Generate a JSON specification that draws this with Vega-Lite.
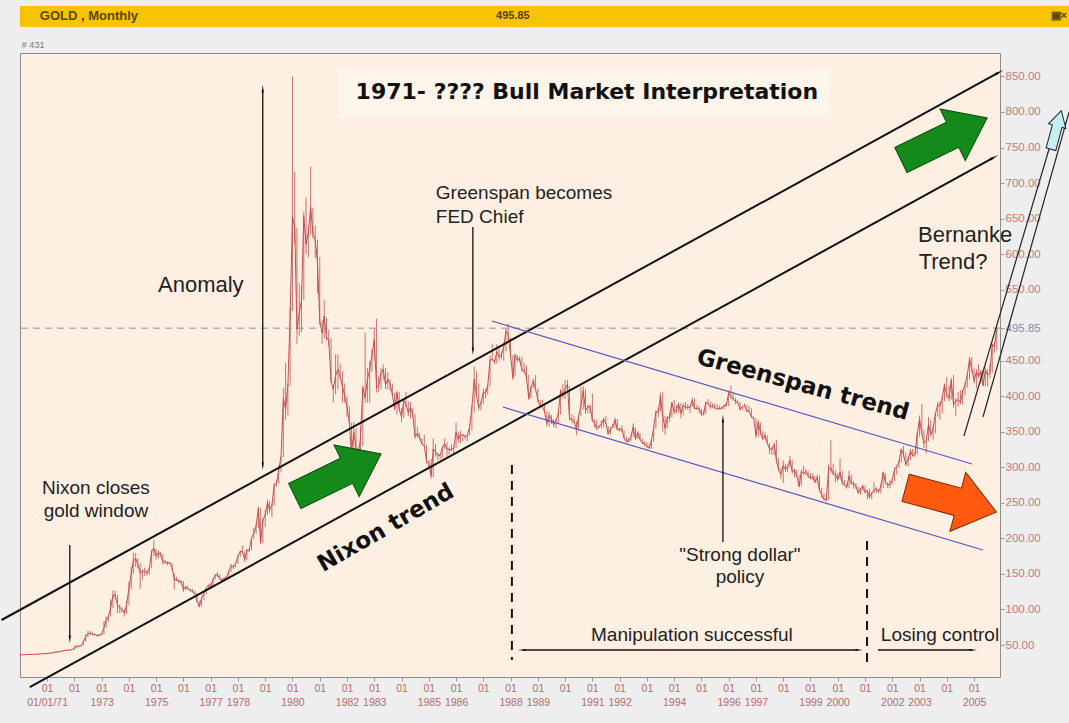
{
"$schema":"https://vega.github.io/schema/vega-lite/v6.json",
"width":980,"height":624,
"autosize":{"type":"none"},
"padding":{"left":20,"top":53,"right":69,"bottom":46},
"background":"#eeeeee",
"config":{"view":{"fill":"#fdf0e3","stroke":"#8c8c8c","strokeWidth":1},"font":"Liberation Sans"},
"resolve":{"axis":{"x":"independent","y":"independent"}},
"datasets":{"gold":[
{"d":"1970-01","c":36.0,"h":36.3,"l":35.8},{"d":"1970-02","c":36.2,"h":36.4,"l":35.9},{"d":"1970-03","c":36.3,"h":36.5,"l":36.0},{"d":"1970-04","c":36.5,"h":36.8,"l":36.2},{"d":"1970-05","c":36.6,"h":36.9,"l":36.3},{"d":"1970-06","c":36.7,"h":37.0,"l":36.4},{"d":"1970-07","c":36.8,"h":37.1,"l":36.5},{"d":"1970-08","c":37.0,"h":37.3,"l":36.7},{"d":"1970-09","c":37.2,"h":37.6,"l":36.9},{"d":"1970-10","c":37.6,"h":38.0,"l":37.2},{"d":"1970-11","c":37.8,"h":38.1,"l":37.4},{"d":"1970-12","c":37.9,"h":38.2,"l":37.5},
{"d":"1971-01","c":38.0,"h":38.5,"l":37.6},{"d":"1971-02","c":38.7,"h":39.0,"l":38.0},{"d":"1971-03","c":38.9,"h":39.3,"l":38.5},{"d":"1971-04","c":39.0,"h":39.5,"l":38.6},{"d":"1971-05","c":40.5,"h":41.0,"l":39.0},{"d":"1971-06","c":40.1,"h":40.9,"l":39.6},{"d":"1971-07","c":41.0,"h":41.5,"l":40.0},{"d":"1971-08","c":42.0,"h":42.8,"l":40.8},{"d":"1971-09","c":42.5,"h":43.0,"l":41.5},{"d":"1971-10","c":42.6,"h":43.1,"l":42.0},{"d":"1971-11","c":43.0,"h":43.5,"l":42.3},{"d":"1971-12","c":43.5,"h":44.0,"l":42.8},
{"d":"1972-01","c":45.7,"h":49.0,"l":43.5},{"d":"1972-02","c":48.3,"h":49.5,"l":45.5},{"d":"1972-03","c":48.3,"h":49.2,"l":47.5},{"d":"1972-04","c":49.0,"h":49.6,"l":47.8},{"d":"1972-05","c":54.6,"h":57.0,"l":49.0},{"d":"1972-06","c":62.0,"h":65.0,"l":54.5},{"d":"1972-07","c":65.7,"h":70.0,"l":61.0},{"d":"1972-08","c":67.0,"h":70.0,"l":64.0},{"d":"1972-09","c":65.0,"h":67.5,"l":63.5},{"d":"1972-10","c":64.9,"h":66.0,"l":63.5},{"d":"1972-11","c":62.9,"h":65.0,"l":62.0},{"d":"1972-12","c":63.9,"h":65.5,"l":62.5},
{"d":"1973-01","c":65.1,"h":67.0,"l":63.5},{"d":"1973-02","c":74.2,"h":84.0,"l":65.0},{"d":"1973-03","c":84.3,"h":90.0,"l":74.0},{"d":"1973-04","c":90.5,"h":92.0,"l":83.0},{"d":"1973-05","c":102,"h":114,"l":90},{"d":"1973-06","c":120,"h":127,"l":102},{"d":"1973-07","c":120,"h":126,"l":114},{"d":"1973-08","c":106,"h":120,"l":95},{"d":"1973-09","c":103,"h":107,"l":95},{"d":"1973-10","c":100,"h":103,"l":96},{"d":"1973-11","c":94.8,"h":100,"l":90},{"d":"1973-12","c":106.7,"h":112,"l":94},
{"d":"1974-01","c":129,"h":139,"l":106},{"d":"1974-02","c":150,"h":160,"l":128},{"d":"1974-03","c":168,"h":180,"l":150},{"d":"1974-04","c":172,"h":179,"l":160},{"d":"1974-05","c":163,"h":172,"l":158},{"d":"1974-06","c":151,"h":165,"l":129},{"d":"1974-07","c":154,"h":156,"l":142},{"d":"1974-08","c":154,"h":159,"l":147},{"d":"1974-09","c":151,"h":155,"l":148},{"d":"1974-10","c":158,"h":159,"l":149},{"d":"1974-11","c":181,"h":184,"l":158},{"d":"1974-12","c":186.5,"h":197.5,"l":175},
{"d":"1975-01","c":175,"h":185,"l":170},{"d":"1975-02","c":180,"h":183,"l":172},{"d":"1975-03","c":178,"h":181,"l":175},{"d":"1975-04","c":167,"h":178,"l":163},{"d":"1975-05","c":167,"h":170,"l":164},{"d":"1975-06","c":165,"h":168,"l":162},{"d":"1975-07","c":166,"h":167,"l":164},{"d":"1975-08","c":159,"h":165,"l":156},{"d":"1975-09","c":142,"h":151,"l":128},{"d":"1975-10","c":142,"h":146,"l":140},{"d":"1975-11","c":139,"h":143,"l":137},{"d":"1975-12","c":140,"h":141,"l":135},
{"d":"1976-01","c":128,"h":140,"l":125},{"d":"1976-02","c":132,"h":133,"l":127},{"d":"1976-03","c":129,"h":133,"l":128},{"d":"1976-04","c":128,"h":129,"l":125},{"d":"1976-05","c":125,"h":129,"l":124},{"d":"1976-06","c":123,"h":126,"l":122},{"d":"1976-07","c":112,"h":123,"l":110},{"d":"1976-08","c":104,"h":112,"l":103},{"d":"1976-09","c":116,"h":117,"l":104},{"d":"1976-10","c":123,"h":125,"l":113},{"d":"1976-11","c":130,"h":131,"l":121},{"d":"1976-12","c":134.5,"h":135,"l":130},
{"d":"1977-01","c":132,"h":137,"l":130},{"d":"1977-02","c":142,"h":143,"l":131},{"d":"1977-03","c":148,"h":150,"l":142},{"d":"1977-04","c":149,"h":153,"l":146},{"d":"1977-05","c":143,"h":149,"l":142},{"d":"1977-06","c":141,"h":145,"l":140},{"d":"1977-07","c":144,"h":145,"l":140},{"d":"1977-08","c":145,"h":147,"l":143},{"d":"1977-09","c":154,"h":155,"l":144},{"d":"1977-10","c":161,"h":164,"l":153},{"d":"1977-11","c":160,"h":163,"l":157},{"d":"1977-12","c":165,"h":166,"l":159},
{"d":"1978-01","c":175,"h":176,"l":164},{"d":"1978-02","c":182,"h":183,"l":174},{"d":"1978-03","c":181,"h":190,"l":180},{"d":"1978-04","c":170,"h":182,"l":167},{"d":"1978-05","c":184,"h":185,"l":169},{"d":"1978-06","c":183,"h":185,"l":181},{"d":"1978-07","c":200,"h":201,"l":183},{"d":"1978-08","c":208,"h":215,"l":199},{"d":"1978-09","c":217,"h":220,"l":206},{"d":"1978-10","c":242,"h":245,"l":215},{"d":"1978-11","c":194,"h":243,"l":192},{"d":"1978-12","c":226,"h":228,"l":193},
{"d":"1979-01","c":233,"h":240,"l":216},{"d":"1979-02","c":251,"h":255,"l":233},{"d":"1979-03","c":240,"h":253,"l":236},{"d":"1979-04","c":246,"h":248,"l":230},{"d":"1979-05","c":275,"h":278,"l":246},{"d":"1979-06","c":277,"h":282,"l":273},{"d":"1979-07","c":296,"h":303,"l":277},{"d":"1979-08","c":315,"h":316,"l":293},{"d":"1979-09","c":397,"h":412,"l":314},{"d":"1979-10","c":382,"h":447,"l":367},{"d":"1979-11","c":415,"h":418,"l":373},{"d":"1979-12","c":512,"h":525,"l":415},
{"d":"1980-01","c":653,"h":850,"l":520},{"d":"1980-02","c":637,"h":716,"l":614},{"d":"1980-03","c":494,"h":637,"l":474},{"d":"1980-04","c":517,"h":559,"l":485},{"d":"1980-05","c":535,"h":555,"l":490},{"d":"1980-06","c":653,"h":660,"l":535},{"d":"1980-07","c":614,"h":680,"l":600},{"d":"1980-08","c":631,"h":640,"l":595},{"d":"1980-09","c":666,"h":723,"l":627},{"d":"1980-10","c":629,"h":665,"l":622},{"d":"1980-11","c":620,"h":640,"l":594},{"d":"1980-12","c":589.75,"h":620,"l":545},
{"d":"1981-01","c":506,"h":596,"l":500},{"d":"1981-02","c":489,"h":507,"l":474},{"d":"1981-03","c":513,"h":535,"l":482},{"d":"1981-04","c":482,"h":510,"l":478},{"d":"1981-05","c":480,"h":494,"l":471},{"d":"1981-06","c":422,"h":482,"l":419},{"d":"1981-07","c":410,"h":416,"l":391},{"d":"1981-08","c":429,"h":459,"l":403},{"d":"1981-09","c":438,"h":459,"l":410},{"d":"1981-10","c":427,"h":446,"l":426},{"d":"1981-11","c":414,"h":435,"l":391},{"d":"1981-12","c":400,"h":418,"l":391},
{"d":"1982-01","c":385,"h":400,"l":371},{"d":"1982-02","c":363,"h":386,"l":362},{"d":"1982-03","c":320,"h":363,"l":314},{"d":"1982-04","c":350,"h":364,"l":324},{"d":"1982-05","c":328,"h":355,"l":320},{"d":"1982-06","c":317,"h":328,"l":297},{"d":"1982-07","c":342,"h":357,"l":315},{"d":"1982-08","c":412,"h":415,"l":330},{"d":"1982-09","c":398,"h":490,"l":391},{"d":"1982-10","c":423,"h":440,"l":391},{"d":"1982-11","c":438,"h":450,"l":391},{"d":"1982-12","c":456.9,"h":466,"l":434},
{"d":"1983-01","c":480,"h":495,"l":450},{"d":"1983-02","c":412,"h":509,"l":405},{"d":"1983-03","c":415,"h":428,"l":406},{"d":"1983-04","c":432,"h":440,"l":410},{"d":"1983-05","c":438,"h":445,"l":423},{"d":"1983-06","c":416,"h":440,"l":410},{"d":"1983-07","c":424,"h":434,"l":410},{"d":"1983-08","c":417,"h":424,"l":408},{"d":"1983-09","c":402,"h":418,"l":401},{"d":"1983-10","c":382,"h":405,"l":380},{"d":"1983-11","c":405,"h":408,"l":374},{"d":"1983-12","c":382,"h":406,"l":380},
{"d":"1984-01","c":371,"h":383,"l":364},{"d":"1984-02","c":394,"h":395,"l":369},{"d":"1984-03","c":389,"h":406,"l":385},{"d":"1984-04","c":377,"h":393,"l":372},{"d":"1984-05","c":384,"h":392,"l":369},{"d":"1984-06","c":373,"h":384,"l":370},{"d":"1984-07","c":343,"h":375,"l":340},{"d":"1984-08","c":348,"h":357,"l":342},{"d":"1984-09","c":341,"h":349,"l":339},{"d":"1984-10","c":333,"h":341,"l":332},{"d":"1984-11","c":330,"h":346,"l":330},{"d":"1984-12","c":309,"h":331,"l":305},
{"d":"1985-01","c":306,"h":310,"l":298},{"d":"1985-02","c":288,"h":312,"l":284},{"d":"1985-03","c":326,"h":341,"l":286},{"d":"1985-04","c":322,"h":333,"l":315},{"d":"1985-05","c":317,"h":320,"l":310},{"d":"1985-06","c":317,"h":319,"l":311},{"d":"1985-07","c":327,"h":330,"l":313},{"d":"1985-08","c":333,"h":341,"l":326},{"d":"1985-09","c":326,"h":335,"l":315},{"d":"1985-10","c":325,"h":328,"l":318},{"d":"1985-11","c":325,"h":333,"l":323},{"d":"1985-12","c":327,"h":329,"l":320},
{"d":"1986-01","c":350,"h":363,"l":327},{"d":"1986-02","c":339,"h":349,"l":335},{"d":"1986-03","c":345,"h":351,"l":334},{"d":"1986-04","c":346,"h":347,"l":337},{"d":"1986-05","c":343,"h":346,"l":339},{"d":"1986-06","c":345,"h":346,"l":337},{"d":"1986-07","c":357,"h":361,"l":345},{"d":"1986-08","c":384,"h":387,"l":352},{"d":"1986-09","c":424,"h":442,"l":377},{"d":"1986-10","c":402,"h":435,"l":400},{"d":"1986-11","c":384,"h":418,"l":380},{"d":"1986-12","c":391,"h":393,"l":380},
{"d":"1987-01","c":405,"h":411,"l":389},{"d":"1987-02","c":405,"h":410,"l":397},{"d":"1987-03","c":415,"h":416,"l":402},{"d":"1987-04","c":451,"h":457,"l":414},{"d":"1987-05","c":452,"h":474,"l":450},{"d":"1987-06","c":448,"h":452,"l":445},{"d":"1987-07","c":463,"h":473,"l":446},{"d":"1987-08","c":455,"h":468,"l":450},{"d":"1987-09","c":459,"h":463,"l":452},{"d":"1987-10","c":469,"h":475,"l":450},{"d":"1987-11","c":492,"h":495,"l":463},{"d":"1987-12","c":486.5,"h":502,"l":479},
{"d":"1988-01","c":458,"h":482,"l":456},{"d":"1988-02","c":426,"h":458,"l":423},{"d":"1988-03","c":458,"h":460,"l":428},{"d":"1988-04","c":451,"h":458,"l":448},{"d":"1988-05","c":453,"h":456,"l":448},{"d":"1988-06","c":437,"h":456,"l":434},{"d":"1988-07","c":437,"h":447,"l":432},{"d":"1988-08","c":427,"h":443,"l":422},{"d":"1988-09","c":397,"h":430,"l":395},{"d":"1988-10","c":412,"h":415,"l":397},{"d":"1988-11","c":422,"h":425,"l":411},{"d":"1988-12","c":410,"h":430,"l":408},
{"d":"1989-01","c":395,"h":411,"l":392},{"d":"1989-02","c":386,"h":395,"l":383},{"d":"1989-03","c":386,"h":395,"l":385},{"d":"1989-04","c":378,"h":388,"l":377},{"d":"1989-05","c":362,"h":379,"l":357},{"d":"1989-06","c":373,"h":378,"l":358},{"d":"1989-07","c":368,"h":374,"l":361},{"d":"1989-08","c":360,"h":368,"l":357},{"d":"1989-09","c":366,"h":368,"l":355},{"d":"1989-10","c":375,"h":378,"l":361},{"d":"1989-11","c":408,"h":410,"l":374},{"d":"1989-12","c":401,"h":417,"l":397},
{"d":"1990-01","c":410,"h":423,"l":396},{"d":"1990-02","c":417,"h":423,"l":408},{"d":"1990-03","c":368,"h":414,"l":366},{"d":"1990-04","c":368,"h":375,"l":362},{"d":"1990-05","c":364,"h":372,"l":362},{"d":"1990-06","c":353,"h":365,"l":345},{"d":"1990-07","c":372,"h":374,"l":352},{"d":"1990-08","c":387,"h":414,"l":372},{"d":"1990-09","c":408,"h":414,"l":381},{"d":"1990-10","c":380,"h":410,"l":375},{"d":"1990-11","c":385,"h":388,"l":376},{"d":"1990-12","c":386,"h":388,"l":376},
{"d":"1991-01","c":366,"h":404,"l":364},{"d":"1991-02","c":362,"h":368,"l":356},{"d":"1991-03","c":355,"h":367,"l":352},{"d":"1991-04","c":357,"h":360,"l":355},{"d":"1991-05","c":361,"h":366,"l":355},{"d":"1991-06","c":368,"h":370,"l":356},{"d":"1991-07","c":362,"h":372,"l":361},{"d":"1991-08","c":347,"h":358,"l":346},{"d":"1991-09","c":354,"h":357,"l":346},{"d":"1991-10","c":357,"h":361,"l":355},{"d":"1991-11","c":367,"h":370,"l":356},{"d":"1991-12","c":353,"h":368,"l":352},
{"d":"1992-01","c":354,"h":356,"l":350},{"d":"1992-02","c":353,"h":359,"l":350},{"d":"1992-03","c":341,"h":352,"l":340},{"d":"1992-04","c":336,"h":343,"l":336},{"d":"1992-05","c":337,"h":341,"l":335},{"d":"1992-06","c":343,"h":345,"l":337},{"d":"1992-07","c":357,"h":362,"l":343},{"d":"1992-08","c":340,"h":356,"l":339},{"d":"1992-09","c":349,"h":351,"l":340},{"d":"1992-10","c":339,"h":348,"l":338},{"d":"1992-11","c":334,"h":340,"l":333},{"d":"1992-12","c":333,"h":337,"l":330},
{"d":"1993-01","c":330,"h":335,"l":327},{"d":"1993-02","c":327,"h":333,"l":326},{"d":"1993-03","c":337,"h":338,"l":326},{"d":"1993-04","c":355,"h":358,"l":336},{"d":"1993-05","c":378,"h":380,"l":354},{"d":"1993-06","c":378,"h":384,"l":371},{"d":"1993-07","c":401,"h":405,"l":378},{"d":"1993-08","c":372,"h":406,"l":350},{"d":"1993-09","c":355,"h":372,"l":346},{"d":"1993-10","c":370,"h":372,"l":355},{"d":"1993-11","c":370,"h":377,"l":364},{"d":"1993-12","c":391,"h":392,"l":370},
{"d":"1994-01","c":378,"h":395,"l":375},{"d":"1994-02","c":382,"h":387,"l":376},{"d":"1994-03","c":389,"h":391,"l":377},{"d":"1994-04","c":376,"h":390,"l":369},{"d":"1994-05","c":387,"h":390,"l":373},{"d":"1994-06","c":385,"h":392,"l":381},{"d":"1994-07","c":384,"h":389,"l":381},{"d":"1994-08","c":385,"h":387,"l":376},{"d":"1994-09","c":395,"h":398,"l":385},{"d":"1994-10","c":383,"h":397,"l":382},{"d":"1994-11","c":383,"h":388,"l":381},{"d":"1994-12","c":383,"h":386,"l":376},
{"d":"1995-01","c":375,"h":382,"l":372},{"d":"1995-02","c":376,"h":380,"l":372},{"d":"1995-03","c":392,"h":392,"l":375},{"d":"1995-04","c":389,"h":396,"l":388},{"d":"1995-05","c":385,"h":392,"l":382},{"d":"1995-06","c":387,"h":390,"l":383},{"d":"1995-07","c":384,"h":390,"l":382},{"d":"1995-08","c":382,"h":389,"l":381},{"d":"1995-09","c":383,"h":387,"l":381},{"d":"1995-10","c":383,"h":386,"l":381},{"d":"1995-11","c":387,"h":389,"l":382},{"d":"1995-12","c":387,"h":391,"l":386},
{"d":"1996-01","c":405,"h":408,"l":386},{"d":"1996-02","c":400,"h":415,"l":396},{"d":"1996-03","c":396,"h":404,"l":394},{"d":"1996-04","c":393,"h":398,"l":389},{"d":"1996-05","c":391,"h":395,"l":389},{"d":"1996-06","c":382,"h":392,"l":380},{"d":"1996-07","c":385,"h":386,"l":380},{"d":"1996-08","c":387,"h":390,"l":385},{"d":"1996-09","c":379,"h":388,"l":378},{"d":"1996-10","c":379,"h":386,"l":378},{"d":"1996-11","c":371,"h":383,"l":370},{"d":"1996-12","c":369,"h":372,"l":367},
{"d":"1997-01","c":345,"h":369,"l":341},{"d":"1997-02","c":364,"h":366,"l":343},{"d":"1997-03","c":349,"h":363,"l":346},{"d":"1997-04","c":340,"h":351,"l":338},{"d":"1997-05","c":345,"h":349,"l":339},{"d":"1997-06","c":334,"h":345,"l":334},{"d":"1997-07","c":326,"h":334,"l":319},{"d":"1997-08","c":325,"h":329,"l":318},{"d":"1997-09","c":332,"h":335,"l":317},{"d":"1997-10","c":311,"h":339,"l":306},{"d":"1997-11","c":296,"h":313,"l":295},{"d":"1997-12","c":290,"h":299,"l":284},
{"d":"1998-01","c":303,"h":310,"l":278},{"d":"1998-02","c":297,"h":305,"l":294},{"d":"1998-03","c":301,"h":303,"l":293},{"d":"1998-04","c":310,"h":316,"l":300},{"d":"1998-05","c":294,"h":310,"l":291},{"d":"1998-06","c":296,"h":298,"l":286},{"d":"1998-07","c":288,"h":296,"l":287},{"d":"1998-08","c":273,"h":289,"l":272},{"d":"1998-09","c":294,"h":297,"l":274},{"d":"1998-10","c":292,"h":302,"l":289},{"d":"1998-11","c":294,"h":298,"l":289},{"d":"1998-12","c":288,"h":295,"l":285},
{"d":"1999-01","c":285,"h":292,"l":283},{"d":"1999-02","c":287,"h":291,"l":282},{"d":"1999-03","c":279,"h":288,"l":278},{"d":"1999-04","c":286,"h":290,"l":278},{"d":"1999-05","c":268,"h":289,"l":267},{"d":"1999-06","c":261,"h":271,"l":257},{"d":"1999-07","c":255,"h":263,"l":253},{"d":"1999-08","c":254,"h":258,"l":252},{"d":"1999-09","c":299,"h":304,"l":254},{"d":"1999-10","c":299,"h":338,"l":292},{"d":"1999-11","c":291,"h":305,"l":289},{"d":"1999-12","c":290,"h":296,"l":279},
{"d":"2000-01","c":283,"h":292,"l":281},{"d":"2000-02","c":293,"h":313,"l":283},{"d":"2000-03","c":278,"h":295,"l":275},{"d":"2000-04","c":275,"h":282,"l":274},{"d":"2000-05","c":272,"h":277,"l":270},{"d":"2000-06","c":288,"h":295,"l":271},{"d":"2000-07","c":277,"h":290,"l":276},{"d":"2000-08","c":277,"h":281,"l":270},{"d":"2000-09","c":273,"h":278,"l":270},{"d":"2000-10","c":264,"h":273,"l":263},{"d":"2000-11","c":269,"h":271,"l":262},{"d":"2000-12","c":274,"h":276,"l":267},
{"d":"2001-01","c":265,"h":274,"l":263},{"d":"2001-02","c":267,"h":268,"l":255},{"d":"2001-03","c":258,"h":270,"l":256},{"d":"2001-04","c":264,"h":265,"l":255},{"d":"2001-05","c":268,"h":279,"l":263},{"d":"2001-06","c":270,"h":272,"l":264},{"d":"2001-07","c":266,"h":269,"l":264},{"d":"2001-08","c":273,"h":277,"l":263},{"d":"2001-09","c":293,"h":294,"l":271},{"d":"2001-10","c":279,"h":292,"l":277},{"d":"2001-11","c":275,"h":279,"l":271},{"d":"2001-12","c":276,"h":282,"l":271},
{"d":"2002-01","c":282,"h":284,"l":277},{"d":"2002-02","c":297,"h":300,"l":281},{"d":"2002-03","c":301,"h":303,"l":290},{"d":"2002-04","c":308,"h":310,"l":299},{"d":"2002-05","c":326,"h":326,"l":307},{"d":"2002-06","c":318,"h":330,"l":314},{"d":"2002-07","c":304,"h":321,"l":302},{"d":"2002-08","c":312,"h":316,"l":301},{"d":"2002-09","c":323,"h":326,"l":310},{"d":"2002-10","c":316,"h":326,"l":315},{"d":"2002-11","c":319,"h":322,"l":315},{"d":"2002-12","c":347,"h":349,"l":318},
{"d":"2003-01","c":368,"h":373,"l":343},{"d":"2003-02","c":347,"h":389,"l":346},{"d":"2003-03","c":334,"h":353,"l":327},{"d":"2003-04","c":337,"h":341,"l":320},{"d":"2003-05","c":361,"h":371,"l":337},{"d":"2003-06","c":346,"h":367,"l":343},{"d":"2003-07","c":354,"h":356,"l":339},{"d":"2003-08","c":375,"h":377,"l":348},{"d":"2003-09","c":388,"h":392,"l":371},{"d":"2003-10","c":386,"h":393,"l":367},{"d":"2003-11","c":398,"h":399,"l":376},{"d":"2003-12","c":416,"h":418,"l":393},
{"d":"2004-01","c":402,"h":427,"l":398},{"d":"2004-02","c":397,"h":415,"l":393},{"d":"2004-03","c":423,"h":426,"l":395},{"d":"2004-04","c":388,"h":430,"l":384},{"d":"2004-05","c":394,"h":397,"l":372},{"d":"2004-06","c":395,"h":406,"l":385},{"d":"2004-07","c":391,"h":409,"l":389},{"d":"2004-08","c":407,"h":409,"l":388},{"d":"2004-09","c":416,"h":419,"l":401},{"d":"2004-10","c":429,"h":431,"l":412},{"d":"2004-11","c":453,"h":455,"l":424},{"d":"2004-12","c":438,"h":455,"l":434},
{"d":"2005-01","c":422,"h":440,"l":418},{"d":"2005-02","c":434,"h":438,"l":411},{"d":"2005-03","c":428,"h":445,"l":426},{"d":"2005-04","c":435,"h":437,"l":418},{"d":"2005-05","c":415,"h":436,"l":414},{"d":"2005-06","c":437,"h":441,"l":414},{"d":"2005-07","c":430,"h":438,"l":414},{"d":"2005-08","c":433,"h":446,"l":425},{"d":"2005-09","c":473,"h":474,"l":433},{"d":"2005-10","c":470,"h":476,"l":461},{"d":"2005-11","c":495.85,"h":498,"l":465}
]},
"layer":[
{"data":{"values":[{"a":"1970-01-01","b":"2009-06-01","lo":919.6,"hi":949.2}]},
 "mark":{"type":"rect","fill":"#f6c500","clip":false},
 "encoding":{"x":{"field":"a","type":"temporal","axis":null},"x2":{"field":"b"},"y":{"field":"lo","type":"quantitative","axis":null},"y2":{"field":"hi"}}},
{"data":{"values":[{"a":"1981-09-01","b":"1999-10-01","lo":791.6,"hi":862}]},
 "mark":{"type":"rect","fill":"#fdf4ea"},
 "encoding":{"x":{"field":"a","type":"temporal","axis":null},"x2":{"field":"b"},"y":{"field":"lo","type":"quantitative","axis":null},"y2":{"field":"hi"}}},
{"data":{"name":"gold"},
 "mark":{"type":"rule","color":"#c9706c","strokeWidth":1},
 "encoding":{
  "x":{"field":"d","type":"temporal","scale":{"type":"utc","domain":[{"year":1970,"month":1,"date":3,"utc":true},{"year":2005,"month":12,"date":14,"utc":true}]},
   "axis":{"disable":false,"orient":"bottom","title":null,"domain":false,"grid":false,"tickCount":{"interval":"year","step":1},"tickSize":4,"tickColor":"#9a9a9a","labelPadding":2,"labelFontSize":10.5,"labelFont":"Liberation Sans","labelColor":"#b86a6a","labelLineHeight":14,"labelBaseline":"top","labelAngle":0,"labelOverlap":false,"labelBound":false,"labelFlush":false,
    "labelExpr":"['01', utcyear(datum.value) == 1971 ? '01/01/71' : (indexof([1970,1972,1974,1976,1979,1981,1984,1987,1990,1993,1995,1998,2001,2004], utcyear(datum.value)) >= 0 ? '' : '' + utcyear(datum.value))]"}},
  "y":{"field":"l","type":"quantitative","scale":{"domain":[5,883],"nice":false,"zero":false},
   "axis":{"disable":false,"orient":"right","title":null,"domain":false,"grid":false,"values":[50,100,150,200,250,300,350,400,450,495.85,550,600,650,700,750,800,850],"tickSize":4,"tickColor":"#9a9a9a","labelPadding":1,"labelFontSize":11.5,"labelFont":"Liberation Sans","labelColor":{"condition":{"test":"datum.value == 495.85","value":"#8a88b0"},"value":"#c47a7a"},"labelExpr":"format(datum.value, '.2f')","labelOverlap":false,"labelBound":false,"labelFlush":false}},
  "y2":{"field":"h"}}},
{"data":{"name":"gold"},
 "mark":{"type":"line","color":"#c0504d","strokeWidth":1},
 "encoding":{"x":{"field":"d","type":"temporal","axis":null},"y":{"field":"c","type":"quantitative","axis":null}}},
{"data":{"values":[{}]},
 "mark":{"type":"rule","strokeDash":[7,5],"color":"#9a8c9c","strokeWidth":1},
 "encoding":{"y":{"datum":495.85,"type":"quantitative","axis":null}}},
{"data":{"values":[{"a":"1969-05-01","va":85.2,"b":"2005-11-17","vb":854.9},{"a":"1970-05-14","va":-9.1,"b":"2005-09-12","vb":735.3}]},
 "mark":{"type":"rule","color":"#111111","strokeWidth":2,"clip":false},
 "encoding":{"x":{"field":"a","type":"temporal","axis":null},"x2":{"field":"b"},"y":{"field":"va","type":"quantitative","axis":null},"y2":{"field":"vb"}}},
{"data":{"values":[{"a":"1987-04-24","va":505.9,"b":"2004-12-04","vb":304.7},{"a":"1987-09-19","va":384.9,"b":"2005-04-30","vb":183.7}]},
 "mark":{"type":"rule","color":"#5656c0","strokeWidth":1.2},
 "encoding":{"x":{"field":"a","type":"temporal","axis":null},"x2":{"field":"b"},"y":{"field":"va","type":"quantitative","axis":null},"y2":{"field":"vb"}}},
{"data":{"values":[{"a":"1978-11-29","va":831,"b":"1978-11-29","vb":303.3},{"a":"1971-11-01","va":190.7,"b":"1971-11-01","vb":59.9},{"a":"1986-08-14","va":638.2,"b":"1986-08-14","vb":465.1},{"a":"1995-10-16","va":195.0,"b":"1995-10-16","vb":366.6},{"a":"1988-06-15","va":43,"b":"2000-09-29","vb":43},{"a":"2001-06-24","va":43,"b":"2004-12-04","vb":43}]},
 "mark":{"type":"rule","color":"#111111","strokeWidth":1.3},
 "encoding":{"x":{"field":"a","type":"temporal","axis":null},"x2":{"field":"b"},"y":{"field":"va","type":"quantitative","axis":null},"y2":{"field":"vb"}}},
{"data":{"values":[{"a":"1988-01-19","va":303.3,"b":"1988-01-19","vb":28.9},{"a":"2001-01-28","va":196.4,"b":"2001-01-28","vb":17.7}]},
 "mark":{"type":"rule","color":"#111111","strokeWidth":2,"strokeDash":[9,7]},
 "encoding":{"x":{"field":"a","type":"temporal","axis":null},"x2":{"field":"b"},"y":{"field":"va","type":"quantitative","axis":null},"y2":{"field":"vb"}}},
{"data":{"values":[{"a":"2004-08-18","va":344.1,"b":"2008-02-26","vb":800},{"a":"2005-04-30","va":370.8,"b":"2008-06-27","vb":800}]},
 "mark":{"type":"rule","color":"#222222","strokeWidth":1.2,"clip":false},
 "encoding":{"x":{"field":"a","type":"temporal","axis":null},"x2":{"field":"b"},"y":{"field":"va","type":"quantitative","axis":null},"y2":{"field":"vb"}}},
{"data":{"values":[{"t":"2005-11-17","v":854.9},{"t":"2005-09-12","v":735.3}]},
 "mark":{"type":"point","shape":"wedge","filled":true,"color":"#111111","size":110,"angle":61,"opacity":1,"clip":false},
 "encoding":{"x":{"field":"t","type":"temporal","axis":null},"y":{"field":"v","type":"quantitative","axis":null}}},
{"data":{"values":[{"t":"1978-11-29","v":831},{"t":"1995-10-16","v":366.6}]},
 "mark":{"type":"point","shape":"wedge","filled":true,"color":"#111111","size":80,"angle":0,"opacity":1},
 "encoding":{"x":{"field":"t","type":"temporal","axis":null},"y":{"field":"v","type":"quantitative","axis":null}}},
{"data":{"values":[{"t":"1978-11-29","v":303.3},{"t":"1971-11-01","v":59.9},{"t":"1986-08-14","v":465.1}]},
 "mark":{"type":"point","shape":"wedge","filled":true,"color":"#111111","size":80,"angle":180,"opacity":1},
 "encoding":{"x":{"field":"t","type":"temporal","axis":null},"y":{"field":"v","type":"quantitative","axis":null}}},
{"data":{"values":[{"t":"2000-09-29","v":43},{"t":"2004-12-04","v":43}]},
 "mark":{"type":"point","shape":"wedge","filled":true,"color":"#111111","size":80,"angle":90,"opacity":1},
 "encoding":{"x":{"field":"t","type":"temporal","axis":null},"y":{"field":"v","type":"quantitative","axis":null}}},
{"data":{"values":[{"t":"1988-06-15","v":43}]},
 "mark":{"type":"point","shape":"wedge","filled":true,"color":"#111111","size":80,"angle":270,"opacity":1},
 "encoding":{"x":{"field":"t","type":"temporal","axis":null},"y":{"field":"v","type":"quantitative","axis":null}}},
{"data":{"values":[{"t":"1981-09-01","v":289.2},{"t":"2003-11-25","v":762}]},
 "mark":{"type":"point","shape":"M-1,-0.29L0.2,-0.29L0.2,-0.6L1,0L0.2,0.6L0.2,0.29L-1,0.29Z","filled":true,"fill":"#148a1a","stroke":"#0a4d0a","strokeWidth":1,"size":9216,"angle":334,"opacity":1},
 "encoding":{"x":{"field":"t","type":"temporal","axis":null},"y":{"field":"v","type":"quantitative","axis":null}}},
{"data":{"values":[{"t":"2004-02-27","v":254.1}]},
 "mark":{"type":"point","shape":"M-1,-0.3L0.15,-0.3L0.15,-0.65L1,0L0.15,0.65L0.15,0.3L-1,0.3Z","filled":true,"fill":"#ff5a10","stroke":"#7a2800","strokeWidth":1,"size":8836,"angle":15,"opacity":1,"clip":false},
 "encoding":{"x":{"field":"t","type":"temporal","axis":null},"y":{"field":"v","type":"quantitative","axis":null}}},
{"data":{"values":[{"t":"2008-01-05","v":774.7}]},
 "mark":{"type":"point","shape":"M-1,-0.25L0.2,-0.25L0.2,-0.45L1,0L0.2,0.45L0.2,0.25L-1,0.25Z","filled":true,"fill":"#c4eef2","stroke":"#222222","strokeWidth":1,"size":1600,"angle":285,"opacity":1,"clip":false},
 "encoding":{"x":{"field":"t","type":"temporal","axis":null},"y":{"field":"v","type":"quantitative","axis":null}}},
{"data":{"values":[{"t":"1990-10-19","v":828.2,"s":"1971- ???? Bull Market Interpretation"}]},
 "mark":{"type":"text","font":"DejaVu Sans","fontWeight":"bold","fontSize":22,"color":"#111111","align":"center","baseline":"middle"},
 "encoding":{"x":{"field":"t","type":"temporal","axis":null},"y":{"field":"v","type":"quantitative","axis":null},"text":{"field":"s"}}},
{"data":{"values":[{"t":"1972-10-16","v":270.9,"s":"Nixon closes"},{"t":"1972-10-16","v":238.6,"s":"gold window"},{"t":"1996-05-31","v":176.7,"s":"\"Strong dollar\""},{"t":"1996-05-31","v":145.7,"s":"policy"},{"t":"1994-08-26","v":64.1,"s":"Manipulation successful"},{"t":"2003-10-02","v":64.1,"s":"Losing control"}]},
 "mark":{"type":"text","font":"Liberation Sans","fontSize":19,"color":"#222222","align":"center","baseline":"middle"},
 "encoding":{"x":{"field":"t","type":"temporal","axis":null},"y":{"field":"v","type":"quantitative","axis":null},"text":{"field":"s"}}},
{"data":{"values":[{"t":"1985-04-05","v":686.0,"s":"Greenspan becomes"},{"t":"1985-04-05","v":652.3,"s":"FED Chief"}]},
 "mark":{"type":"text","font":"Liberation Sans","fontSize":19,"color":"#222222","align":"left","baseline":"middle"},
 "encoding":{"x":{"field":"t","type":"temporal","axis":null},"y":{"field":"v","type":"quantitative","axis":null},"text":{"field":"s"}}},
{"data":{"values":[{"t":"1976-08-21","v":556.6,"s":"Anomaly"}]},
 "mark":{"type":"text","font":"Liberation Sans","fontSize":22,"color":"#222222","align":"center","baseline":"middle"},
 "encoding":{"x":{"field":"t","type":"temporal","axis":null},"y":{"field":"v","type":"quantitative","axis":null},"text":{"field":"s"}}},
{"data":{"values":[{"t":"2002-12-13","v":626.9,"s":"Bernanke"},{"t":"2002-12-20","v":589.0,"s":"Trend?"}]},
 "mark":{"type":"text","font":"Liberation Sans","fontSize":22,"color":"#222222","align":"left","baseline":"middle","clip":false},
 "encoding":{"x":{"field":"t","type":"temporal","axis":null},"y":{"field":"v","type":"quantitative","axis":null},"text":{"field":"s"}}},
{"data":{"values":[{"t":"1998-09-22","v":415.9,"s":"Greenspan trend"}]},
 "mark":{"type":"text","font":"DejaVu Sans","fontWeight":"bold","fontSize":23,"color":"#111111","align":"center","baseline":"middle","angle":15},
 "encoding":{"x":{"field":"t","type":"temporal","axis":null},"y":{"field":"v","type":"quantitative","axis":null},"text":{"field":"s"}}},
{"data":{"values":[{"t":"1983-06-05","v":214.7,"s":"Nixon trend"}]},
 "mark":{"type":"text","font":"DejaVu Sans","fontWeight":"bold","fontSize":23,"color":"#111111","align":"center","baseline":"middle","angle":330},
 "encoding":{"x":{"field":"t","type":"temporal","axis":null},"y":{"field":"v","type":"quantitative","axis":null},"text":{"field":"s"}}},
{"data":{"values":[{"t":"1970-09-25","v":934.4,"s":"GOLD , Monthly"}]},
 "mark":{"type":"text","font":"Liberation Sans","fontWeight":"bold","fontSize":13,"color":"#5a4200","align":"left","baseline":"middle","clip":false},
 "encoding":{"x":{"field":"t","type":"temporal","axis":null},"y":{"field":"v","type":"quantitative","axis":null},"text":{"field":"s"}}},
{"data":{"values":[{"t":"1988-02-01","v":934.4,"s":"495.85"},{"t":"2008-02-10","v":934.4,"s":"▣×"}]},
 "mark":{"type":"text","font":"Liberation Sans","fontWeight":"bold","fontSize":11,"color":"#5a4200","align":"center","baseline":"middle","clip":false},
 "encoding":{"x":{"field":"t","type":"temporal","axis":null},"y":{"field":"v","type":"quantitative","axis":null},"text":{"field":"s"}}},
{"data":{"values":[{"t":"1970-01-28","v":894.3,"s":"# 431"}]},
 "mark":{"type":"text","font":"Liberation Sans","fontSize":9,"color":"#777777","align":"left","baseline":"middle","clip":false},
 "encoding":{"x":{"field":"t","type":"temporal","axis":null},"y":{"field":"v","type":"quantitative","axis":null},"text":{"field":"s"}}}
]
}
